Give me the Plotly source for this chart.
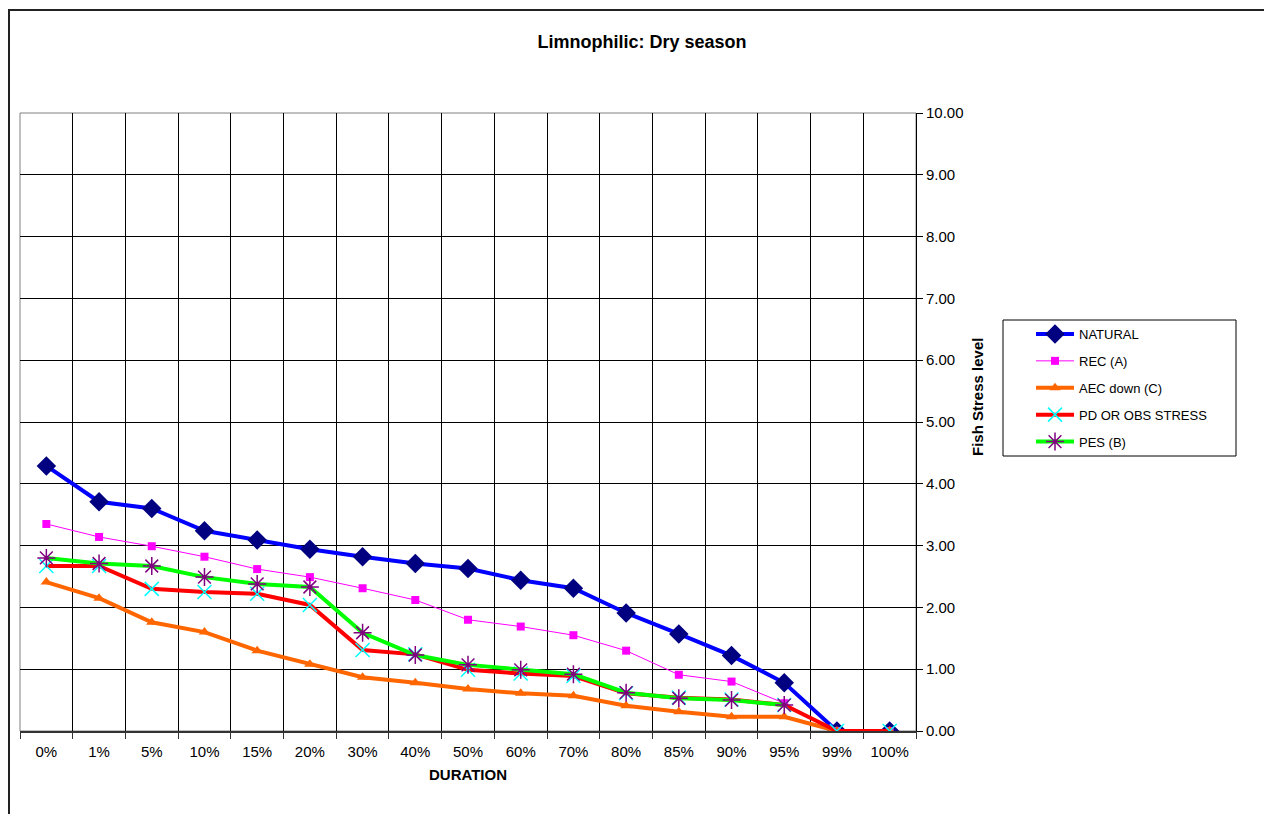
import plotly.graph_objects as go

# categories on the duration axis
durations = ["0%", "1%", "5%", "10%", "15%", "20%", "30%", "40%", "50%",
             "60%", "70%", "80%", "85%", "90%", "95%", "99%", "100%"]

# fish stress levels
natural = [4.29, 3.71, 3.60, 3.24, 3.09, 2.94, 2.82, 2.71, 2.63,
           2.44, 2.31, 1.91, 1.57, 1.22, 0.78, 0.0, 0.0]
rec_a = [3.35, 3.14, 2.99, 2.82, 2.62, 2.49, 2.31, 2.12, 1.80,
         1.69, 1.55, 1.30, 0.91, 0.80, 0.45, 0.0, 0.0]
aec_down_c = [2.41, 2.15, 1.76, 1.60, 1.30, 1.08, 0.87, 0.78, 0.68,
              0.61, 0.57, 0.41, 0.31, 0.23, 0.23, 0.0, 0.0]
pd_obs_stress = [2.67, 2.67, 2.30, 2.25, 2.22, 2.04, 1.31, 1.24, 0.99,
                 0.93, 0.89, 0.61, 0.54, 0.51, 0.42, 0.0, 0.0]
pes_b = [2.80, 2.71, 2.67, 2.49, 2.38, 2.33, 1.59, 1.23, 1.07,
         0.99, 0.92, 0.62, 0.53, 0.50, 0.42, None, None]

FONT = "Liberation Sans, Arial, sans-serif"

# page has an 8px body margin, so the figure is a bit smaller than the window
W, H = 1264, 806
PL, PT, PW, PH = 20, 113, 896, 618   # plot area in page pixels


def px(x):
    return (x - PL) / PW


def py(y):
    return (PT + PH - y) / PH


series = [
    ("NATURAL", natural, dict(color="#0000FF", width=4),
     dict(symbol="diamond", size=15, color="#000080")),
    ("REC (A)", rec_a, dict(color="#FF00FF", width=1),
     dict(symbol="square", size=8, color="#FF00FF")),
    ("AEC down (C)", aec_down_c, dict(color="#FF6600", width=4),
     dict(symbol="triangle-up", size=10, color="#FF6600")),
    ("PD OR OBS STRESS", pd_obs_stress, dict(color="#FF0000", width=4),
     dict(symbol="x-thin-open", size=14, color="#00FFFF",
          line=dict(color="#00FFFF", width=1.5))),
    ("PES (B)", pes_b, dict(color="#00FF00", width=4),
     dict(symbol="asterisk-open", size=15, color="#800080",
          line=dict(color="#800080", width=1.5))),
]

fig = go.Figure()
for i, (name, vals, line, marker) in enumerate(series):
    fig.add_trace(go.Scatter(
        x=durations, y=vals, name=name, mode="lines+markers",
        line=line, marker=marker, legendgroup=str(i),
    ))

fig.update_layout(
    width=W, height=H,
    margin=dict(l=PL - 8, r=W - (PL - 8) - PW, t=PT - 8, b=H - (PT - 8) - PH),
    paper_bgcolor="white", plot_bgcolor="white",
    font=dict(family=FONT, size=15, color="black"),
    showlegend=True,
    title=dict(text="<b>Limnophilic: Dry season</b>", x=634 / W, xanchor="center",
               y=1 - 34 / H, yanchor="middle",
               font=dict(family=FONT, size=18, color="black")),
    legend=dict(x=px(1031), y=py(319), xanchor="left", yanchor="top",
                borderwidth=0, bgcolor="rgba(0,0,0,0)",
                font=dict(family=FONT, size=13, color="black"),
                itemwidth=38, tracegroupgap=7, traceorder="grouped"),
)

fig.update_xaxes(
    type="category", range=[-0.5, len(durations) - 0.5],
    tickson="boundaries", ticks="outside", ticklen=6, tickcolor="#333",
    ticklabelstandoff=6,
    showgrid=True, gridcolor="black", gridwidth=1,
    showline=True, linecolor="#333", linewidth=2,
    tickfont=dict(family=FONT, size=15), zeroline=False,
    title=dict(text="<b>DURATION</b>", font=dict(family=FONT, size=15), standoff=10),
)
fig.update_yaxes(
    side="right", range=[0, 10], dtick=1, tickformat=".2f",
    ticks="outside", ticklen=6, tickcolor="black",
    showgrid=True, gridcolor="black", gridwidth=1,
    showline=True, linecolor="black", linewidth=1, zeroline=False,
    tickfont=dict(family=FONT, size=15),
)

# y title placed like the original (a little above centre)
fig.add_annotation(
    text="<b>Fish Stress level</b>", textangle=-90,
    xref="paper", yref="paper", x=px(977), y=py(397),
    xanchor="center", yanchor="middle", showarrow=False,
    font=dict(family=FONT, size=15, color="black"),
)

# legend box
fig.add_shape(type="rect", xref="paper", yref="paper",
              x0=px(1003), x1=px(1236), y0=py(456), y1=py(320),
              line=dict(color="black", width=1), fillcolor="white", layer="below")

# plot area frame (grey) and outer chart frame
fig.add_shape(type="rect", xref="paper", yref="paper", x0=0, x1=1, y0=0, y1=1,
              line=dict(color="#808080", width=1), layer="below")
fig.add_shape(type="path", xref="paper", yref="paper",
              path="M %f,%f L %f,%f L %f,%f" % (
                  px(9), py(830), px(9), py(10), px(1272), py(10)),
              line=dict(color="#222", width=2))

fig.write_html("out.html")
